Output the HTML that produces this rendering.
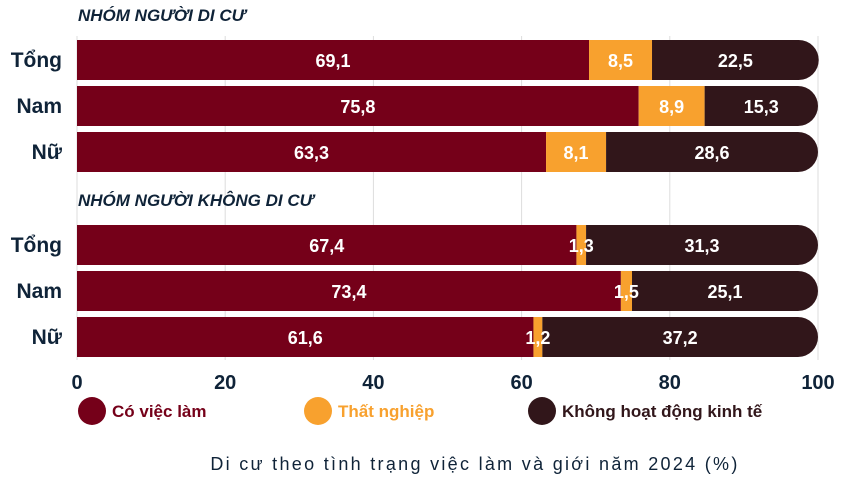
<!DOCTYPE html>
<html><head><meta charset="utf-8"><style>
body{margin:0;background:#fff;width:849px;height:481px;overflow:hidden}
svg{display:block;font-family:"Liberation Sans","DejaVu Sans",sans-serif}
</style></head><body>
<svg id="c" width="849" height="481"></svg>
<script>
const groups=["NHÓM NGƯỜI DI CƯ","NHÓM NGƯỜI KHÔNG DI CƯ"];
const categories=["Tổng","Nam","Nữ"];
const employed=[69.1,75.8,63.3,67.4,73.4,61.6];
const unemployed=[8.5,8.9,8.1,1.3,1.5,1.2];
const inactive=[22.5,15.3,28.6,31.3,25.1,37.2];
const ticks=[0,20,40,60,80,100];
const seriesNames=["Có việc làm","Thất nghiệp","Không hoạt động kinh tế"];
const colors=["#750019","#f8a12e","#31161a"];
const ns="http://www.w3.org/2000/svg";
const svg=document.getElementById('c');
const X=v=>77+v*(818-77)/100;
const rowY=i=>(i<3?40:225)+(i%3)*46;
const BH=40;
function el(t,a,txt){const e=document.createElementNS(ns,t);for(const k in a)e.setAttribute(k,a[k]);if(txt!=null)e.textContent=txt;svg.appendChild(e);return e;}
ticks.forEach(t=>{
 const g=el('line',{x1:X(t),x2:X(t),y1:36,y2:360,stroke:'#ddd','stroke-width':1});
 
 
 const l=el('text',{x:X(t),y:389,'text-anchor':'middle','font-size':20,'font-weight':'bold',fill:'#0f2338'},String(t));
 
 
});
groups.forEach((g,gi)=>{
 const t=el('text',{x:78,y:gi?206:21,'font-size':17,'font-weight':'bold','font-style':'italic',fill:'#0f2338'},g);
 
 
});
const labels=[];
for(let i=0;i<6;i++){
 const y=rowY(i);
 const cl=el('text',{x:62,y:y+27,'text-anchor':'end','font-size':21,'font-weight':'bold',fill:'#0f2338'},categories[i%3]);
 
 
 const vals=[employed[i],unemployed[i],inactive[i]];
 let s=0;
 vals.forEach((v,k)=>{
  const x0=X(s),x1=X(s+v);
  let r;
  if(k===2){
   const rr=BH/2;
   r=el('path',{d:`M${x0},${y}H${x1-rr}A${rr},${rr} 0 0 1 ${x1-rr},${y+BH}H${x0}Z`,fill:colors[k]});
  } else r=el('rect',{x:x0,y:y,width:x1-x0,height:BH,fill:colors[k]});
  
  
  labels.push([(x0+x1)/2,y+27,v.toFixed(1).replace('.',',')]);
  s+=v;
 });
}
labels.forEach(L=>{
 const lb=el('text',{x:L[0],y:L[1],'text-anchor':'middle','font-size':18,'font-weight':'bold',fill:'#fff'},L[2]);
 
 
});
const lx=[92,318,542];
seriesNames.forEach((n,k)=>{
 const c=el('circle',{cx:lx[k],cy:411,r:14,fill:colors[k]});
 
 
 const t=el('text',{x:lx[k]+20,y:417,'font-size':17,'font-weight':'bold',fill:k==1?'#f8a12e':(k==0?'#750019':'#31161a')},n);
 
 
});
const ti=el('text',{x:475,y:470,'text-anchor':'middle','font-size':18,fill:'#0f2338','letter-spacing':'2.3'},"Di cư theo tình trạng việc làm và giới năm 2024 (%)");


</script>
</body></html>
